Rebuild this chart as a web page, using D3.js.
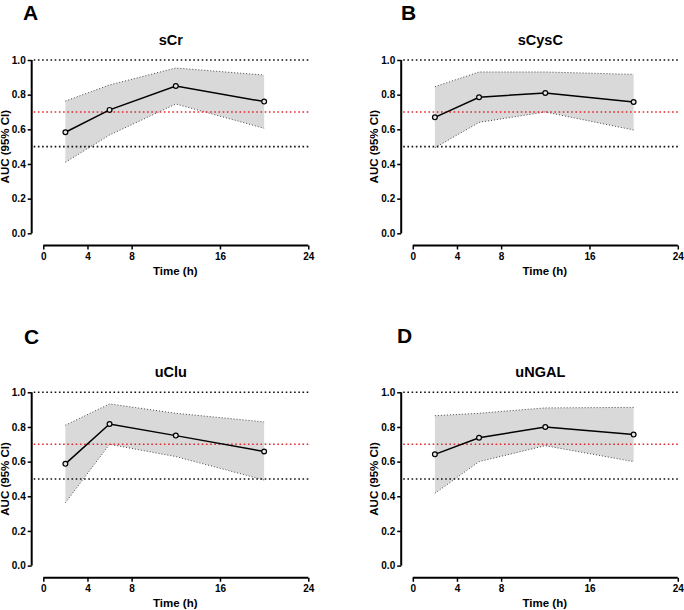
<!DOCTYPE html>
<html><head><meta charset="utf-8">
<script src="https://cdn.jsdelivr.net/npm/d3@7"></script>
<style>
html,body{margin:0;padding:0;background:#fff;}
svg{display:block;font-family:"Liberation Sans",Arial,sans-serif;}
</style></head>
<body>
<svg id="chart" width="684" height="610"></svg>
<script>
// ---- data ----
const panelLetters = ["A", "B", "C", "D"];
const panelTitles = ["sCr", "sCysC", "uClu", "uNGAL"];
const times = [2, 6, 12, 20];
const aucSCr   = [0.583, 0.712, 0.850, 0.760];
const upSCr    = [0.763, 0.856, 0.954, 0.913];
const loSCr    = [0.410, 0.567, 0.746, 0.606];
const aucSCysC = [0.669, 0.785, 0.810, 0.758];
const upSCysC  = [0.846, 0.931, 0.931, 0.917];
const loSCysC  = [0.494, 0.640, 0.700, 0.596];
const aucUClu  = [0.587, 0.817, 0.750, 0.658];
const upUClu   = [0.810, 0.933, 0.879, 0.829];
const loUClu   = [0.363, 0.700, 0.629, 0.494];
const aucUNGAL = [0.642, 0.738, 0.800, 0.756];
const upUNGAL  = [0.865, 0.879, 0.910, 0.913];
const loUNGAL  = [0.417, 0.600, 0.692, 0.600];
const xTicks = [0, 4, 8, 16, 24];
const yTicks = [0, 0.2, 0.4, 0.6, 0.8, 1.0];
const refBlack = [1.0, 0.5];
const refRed = [0.7];
const xLabel = "Time (h)";
const yLabel = "AUC (95% CI)";

const series = [
  {auc: aucSCr, up: upSCr, lo: loSCr},
  {auc: aucSCysC, up: upSCysC, lo: loSCysC},
  {auc: aucUClu, up: upUClu, lo: loUClu},
  {auc: aucUNGAL, up: upUNGAL, lo: loUNGAL}
];

// ---- layout ----
const offsets = [[0, 0], [369.5, 0], [0, 332.3], [369.5, 332.3]];
const letterPos = [[23, 19.5], [401, 19.5], [24, 344], [397, 343]];
const svg = d3.select("#chart");

series.forEach((s, i) => {
  const [ox, oy] = offsets[i];
  const g = svg.append("g").attr("transform", `translate(${ox},${oy})`);
  const axisX = 31.7;
  const xAxisY = 245.5;
  const x = d3.scaleLinear().domain([0, 24]).range([43.3, 308.3]);
  const y = d3.scaleLinear().domain([0, 1]).range([233.3, 60]);

  // band
  const data = times.map((t, k) => ({t, v: s.auc[k], u: s.up[k], l: s.lo[k]}));
  g.append("path").datum(data)
    .attr("d", d3.area().x(d => x(d.t)).y0(d => y(d.l)).y1(d => y(d.u)))
    .attr("fill", "#d9d9d9").attr("stroke", "none");
  ["u", "l"].forEach(key => {
    g.append("path").datum(data)
      .attr("d", d3.line().x(d => x(d.t)).y(d => y(d[key])))
      .attr("fill", "none").attr("stroke", "#444").attr("stroke-width", 1)
      .attr("stroke-dasharray", "1,2");
  });

  // reference lines
  refBlack.forEach(v => {
    g.append("line").attr("x1", axisX + 2).attr("x2", x(24) + 1)
      .attr("y1", y(v)).attr("y2", y(v))
      .attr("stroke", "#111").attr("stroke-width", 1.6).attr("stroke-dasharray", "1.6,2.6");
  });
  refRed.forEach(v => {
    g.append("line").attr("x1", axisX + 2).attr("x2", x(24) + 1)
      .attr("y1", y(v)).attr("y2", y(v))
      .attr("stroke", "#e0282e").attr("stroke-width", 1.6).attr("stroke-dasharray", "1.6,2.6");
  });

  // line and markers
  g.append("path").datum(data)
    .attr("d", d3.line().x(d => x(d.t)).y(d => y(d.v)))
    .attr("fill", "none").attr("stroke", "#000").attr("stroke-width", 1.5);
  g.selectAll("circle.pt").data(data).enter().append("circle")
    .attr("class", "pt")
    .attr("cx", d => x(d.t)).attr("cy", d => y(d.v)).attr("r", 2.4)
    .attr("fill", "#e6e6e6").attr("stroke", "#000").attr("stroke-width", 1.2);

  // y axis
  const ya = g.append("g").attr("transform", `translate(${axisX},0)`)
    .call(d3.axisLeft(y).tickValues(yTicks).tickFormat(d3.format(".1f")).tickSize(4).tickPadding(2));
  ya.select(".domain").attr("d", `M0,${y(0)}V${y(1)}`).attr("stroke-width", 2);
  ya.selectAll(".tick line").attr("stroke-width", 1.5);
  ya.selectAll("text").attr("font-size", 10).attr("font-weight", "bold")
    .attr("font-family", "Liberation Sans, Arial, sans-serif").attr("fill", "#000");

  // x axis
  const xa = g.append("g").attr("transform", `translate(0,${xAxisY})`)
    .call(d3.axisBottom(x).tickValues(xTicks).tickFormat(d3.format("d")).tickSize(4).tickPadding(3));
  xa.select(".domain").attr("d", `M${x(0)},0H${x(24)}`).attr("stroke-width", 2);
  xa.selectAll(".tick line").attr("stroke-width", 1.5);
  xa.selectAll("text").attr("font-size", 10).attr("font-weight", "bold")
    .attr("font-family", "Liberation Sans, Arial, sans-serif").attr("fill", "#000");

  // labels
  g.append("text").attr("x", (x(0) + x(24)) / 2 - 0.5).attr("y", 275)
    .attr("text-anchor", "middle").attr("font-size", 11.5).attr("font-weight", "bold")
    .text(xLabel);
  g.append("text").attr("transform", `translate(${axisX - 23},${(y(0) + y(1)) / 2}) rotate(-90)`)
    .attr("text-anchor", "middle").attr("font-size", 11.5).attr("font-weight", "bold")
    .text(yLabel);
  g.append("text").attr("x", (x(0) + x(24)) / 2 - 5).attr("y", 45)
    .attr("text-anchor", "middle").attr("font-size", 14.5).attr("font-weight", "bold")
    .text(panelTitles[i]);

  svg.append("text").attr("x", letterPos[i][0]).attr("y", letterPos[i][1])
    .attr("font-size", 21).attr("font-weight", "bold").text(panelLetters[i]);
});
</script>
</body></html>
